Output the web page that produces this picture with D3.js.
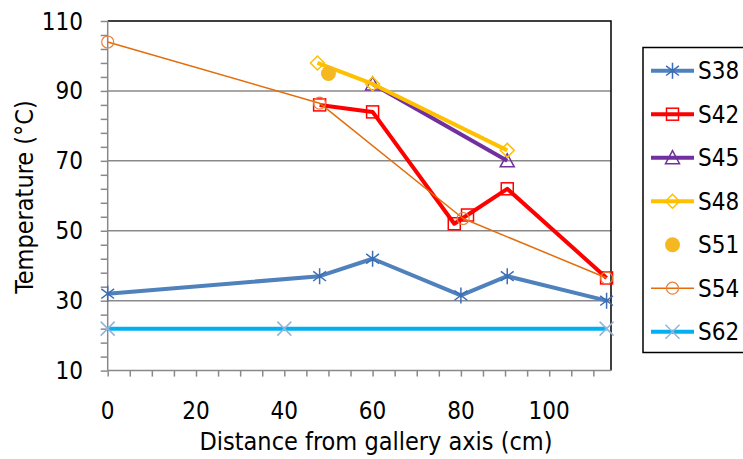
<!DOCTYPE html>
<html>
<head>
<meta charset="utf-8">
<script src="https://cdn.jsdelivr.net/npm/d3@7"></script>
<style>
    body { margin: 0; background: #fff; }
    text { font-family: "DejaVu Sans Condensed", "DejaVu Sans", sans-serif; fill: #000; }
</style>
</head>
<body>
<div id="chart"></div>
<script>
/* values */
var seriesNames = ['S38', 'S42', 'S45', 'S48', 'S51', 'S54', 'S62'];
var s38X = [0, 48, 60, 80, 90.5, 113];
var s38Y = [32, 37, 42, 31.5, 37, 30];
var s42X = [48, 60, 78.5, 81.5, 90.5, 113];
var s42Y = [86, 84, 52, 54.5, 62, 36.5];
var s45X = [60, 90.5];
var s45Y = [92, 70];
var s48X = [47.5, 60, 90.5];
var s48Y = [98, 92, 73];
var s51X = [50];
var s51Y = [95];
var s54X = [0, 48, 80.5, 113];
var s54Y = [104, 86.5, 53.5, 36.5];
var s62X = [0, 40, 113];
var s62Y = [22, 22, 22];
var xTicks = [0, 20, 40, 60, 80, 100];
var yTicks = [10, 30, 50, 70, 90, 110];

var width = 743, height = 459;
var plotLeft = 107.7, plotRight = 611, plotTop = 21, plotBottom = 370.6;

var x = d3.scaleLinear().domain([0, 114]).range([plotLeft, plotRight]);
var y = d3.scaleLinear().domain([10, 110]).range([plotBottom, plotTop]);

var svg = d3.select('#chart').append('svg')
    .attr('width', width)
    .attr('height', height);

var zip = function(xs, ys) {
    return xs.map(function(v, i) { return [v, ys[i]]; });
};

/* marker drawing functions */
var markers = {
    star: function(g, color) {
        var r = 8;
        g.append('path')
            .attr('d', 'M0,' + -r + 'V' + r + 'M' + -r * 0.8 + ',' + -r * 0.6 + 'L' + r * 0.8 + ',' + r * 0.6 +
                'M' + -r * 0.8 + ',' + r * 0.6 + 'L' + r * 0.8 + ',' + -r * 0.6)
            .attr('stroke', color).attr('stroke-width', 1.5).attr('fill', 'none');
    },
    square: function(g, color) {
        g.append('rect').attr('x', -6).attr('y', -6).attr('width', 12).attr('height', 12)
            .attr('stroke', color).attr('stroke-width', 1.5).attr('fill', 'none');
    },
    triangle: function(g, color) {
        g.append('path').attr('d', 'M0,-7L7,6H-7Z')
            .attr('stroke', color).attr('stroke-width', 1.5).attr('fill', 'none');
    },
    diamond: function(g, color) {
        g.append('path').attr('d', 'M0,-7L7,0L0,7L-7,0Z')
            .attr('stroke', color).attr('stroke-width', 1.5).attr('fill', 'none');
    },
    dot: function(g, color) {
        g.append('circle').attr('r', 7.5).attr('fill', color);
    },
    circle: function(g, color) {
        g.append('circle').attr('r', 6)
            .attr('stroke', color).attr('stroke-width', 1.2).attr('fill', 'none');
    },
    cross: function(g, color) {
        g.append('path').attr('d', 'M-7,-7L7,7M-7,7L7,-7')
            .attr('stroke', color).attr('stroke-width', 1.5).attr('fill', 'none');
    }
};

var series = [
    { name: 'S38', pts: zip(s38X, s38Y), line: '#4F81BD', lw: 4, marker: 'star', mc: '#3C6EB4' },
    { name: 'S42', pts: zip(s42X, s42Y), line: '#FF0000', lw: 4, marker: 'square', mc: '#FF0000' },
    { name: 'S45', pts: zip(s45X, s45Y), line: '#7030A0', lw: 4, marker: 'triangle', mc: '#7030A0' },
    { name: 'S48', pts: zip(s48X, s48Y), line: '#FFC000', lw: 4, marker: 'diamond', mc: '#FFC000' },
    { name: 'S51', pts: zip(s51X, s51Y), line: null, lw: 0, marker: 'dot', mc: '#F5B820' },
    { name: 'S54', pts: zip(s54X, s54Y), line: '#E46C0A', lw: 1.5, marker: 'circle', mc: '#E8803A' },
    { name: 'S62', pts: zip(s62X, s62Y), line: '#00B0F0', lw: 4, marker: 'cross', mc: '#95B3D7' }
];

/* gridlines */
svg.append('g').selectAll('line')
    .data(yTicks.filter(function(d) { return d > 10 && d < 110; }))
    .enter().append('line')
    .attr('x1', plotLeft).attr('x2', plotRight)
    .attr('y1', function(d) { return y(d); })
    .attr('y2', function(d) { return y(d); })
    .attr('stroke', '#898989').attr('stroke-width', 1.5);

/* top and right border */
svg.append('path')
    .attr('d', 'M' + plotLeft + ',' + plotTop + 'H' + plotRight + 'V' + plotBottom)
    .attr('stroke', '#000').attr('stroke-width', 1.5).attr('fill', 'none');

/* axes */
var xAxis = d3.axisBottom(x).tickValues(d3.range(0, 115, 5)).tickSize(6).tickFormat('');
svg.append('g').attr('transform', 'translate(0,' + plotBottom + ')').call(xAxis)
    .call(function(g) {
        g.selectAll('path, line').attr('stroke', '#898989').attr('stroke-width', 1.5);
        g.select('.domain').attr('d', 'M' + plotLeft + ',0H' + plotRight);
    });

var yAxis = d3.axisLeft(y).tickValues(d3.range(10, 111, 4)).tickSize(7).tickFormat('');
svg.append('g').attr('transform', 'translate(' + plotLeft + ',0)').call(yAxis)
    .call(function(g) {
        g.selectAll('path, line').attr('stroke', '#898989').attr('stroke-width', 1.5);
        g.select('.domain').attr('d', 'M0,' + plotBottom + 'V' + plotTop);
    });

/* tick labels */
svg.append('g').selectAll('text')
    .data(xTicks).enter().append('text')
    .attr('x', function(d) { return x(d); })
    .attr('y', 419)
    .attr('text-anchor', 'middle')
    .attr('font-size', 24)
    .text(function(d) { return d; });

svg.append('g').selectAll('text')
    .data(yTicks).enter().append('text')
    .attr('x', 83)
    .attr('y', function(d) { return y(d) + 8.5; })
    .attr('text-anchor', 'end')
    .attr('font-size', 24)
    .text(function(d) { return d; });

/* axis titles */
svg.append('text')
    .attr('x', 376).attr('y', 450)
    .attr('text-anchor', 'middle')
    .attr('font-size', 25)
    .text('Distance from gallery axis (cm)');

svg.append('text')
    .attr('transform', 'translate(33,197) rotate(-90)')
    .attr('text-anchor', 'middle')
    .attr('font-size', 25)
    .text('Temperature (°C)');

/* series */
var line = d3.line()
    .x(function(d) { return x(d[0]); })
    .y(function(d) { return y(d[1]); });

series.forEach(function(s) {
    var g = svg.append('g');
    if (s.line) {
        g.append('path')
            .attr('d', line(s.pts))
            .attr('stroke', s.line)
            .attr('stroke-width', s.lw)
            .attr('stroke-linejoin', 'round')
            .attr('fill', 'none');
    }
    s.pts.forEach(function(p) {
        var m = g.append('g').attr('transform', 'translate(' + x(p[0]) + ',' + y(p[1]) + ')');
        markers[s.marker](m, s.mc);
    });
});

/* legend */
var legend = svg.append('g');
legend.append('rect')
    .attr('x', 643).attr('y', 47.5)
    .attr('width', 120).attr('height', 305)
    .attr('stroke', '#000').attr('stroke-width', 1.5).attr('fill', '#fff');

var legendY = d3.scalePoint().domain(seriesNames).range([70.7, 331.7]);

series.forEach(function(s) {
    var ly = legendY(s.name);
    if (s.line) {
        legend.append('line')
            .attr('x1', 651).attr('x2', 694)
            .attr('y1', ly).attr('y2', ly)
            .attr('stroke', s.line).attr('stroke-width', s.lw);
    }
    var m = legend.append('g').attr('transform', 'translate(672.5,' + ly + ')');
    markers[s.marker](m, s.mc);
    legend.append('text')
        .attr('x', 698).attr('y', ly + 8.5)
        .attr('font-size', 24)
        .text(s.name);
});
</script>
</body>
</html>
